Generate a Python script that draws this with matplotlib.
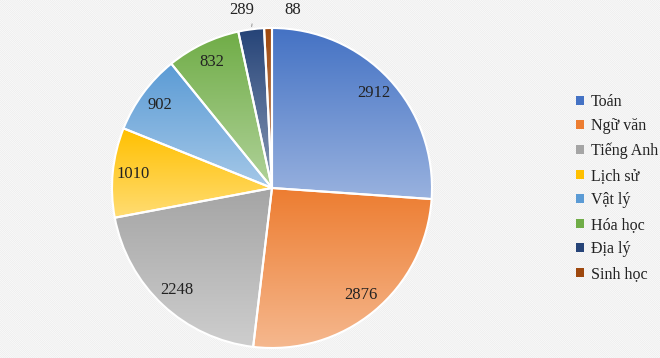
import numpy as np
import matplotlib
matplotlib.use("Agg")
import matplotlib.pyplot as plt
from matplotlib.patches import Rectangle, Patch
from matplotlib.colors import to_rgb

# data
subjects = ["Toán", "Ngữ văn", "Tiếng Anh", "Lịch sử", "Vật lý", "Hóa học", "Địa lý", "Sinh học"]
counts = [2912, 2876, 2248, 1010, 902, 832, 289, 88]
colors = ["#4472C4", "#ED7D31", "#A5A5A5", "#FFC000", "#5B9BD5", "#70AD47", "#264478", "#9E480E"]

plt.rcParams['font.family'] = ['Liberation Serif', 'DejaVu Serif']
plt.rcParams['hatch.linewidth'] = 0.7

W, H = 660, 358
fig = plt.figure(figsize=(W / 100, H / 100), dpi=100)

# striped background
bg = Rectangle((0, 0), 1, 1, transform=fig.transFigure, facecolor='white',
               edgecolor='#eeeeee', hatch='\\' * 16, linewidth=0, zorder=-10)
fig.patches.append(bg)

cx, cy, r = 272, 188, 160
ax = fig.add_axes([(cx - r) / W, (H - cy - r) / H, 2 * r / W, 2 * r / H])

wedges, texts = ax.pie(counts, colors=colors, startangle=90, counterclock=False,
                       wedgeprops=dict(edgecolor='white', linewidth=1.5))

# vertical gradient inside each wedge: base colour at top, lighter below
for w, c in zip(wedges, colors):
    base = np.array(to_rgb(c))
    light = base + (1 - base) * 0.45
    t = np.linspace(0, 1, 64)[:, None]
    grad = base * (1 - t[..., None]) + light * t[..., None]
    grad = np.repeat(grad, 2, axis=1)
    ext = w.get_path().get_extents()
    im = ax.imshow(grad, extent=[ext.x0, ext.x1, ext.y0, ext.y1], origin='upper',
                   aspect='auto', zorder=1, interpolation='bilinear')
    im.set_clip_path(w)
    w.set_facecolor('none')
    w.set_zorder(3)

# value labels
for w, v in zip(wedges, counts):
    mid = np.deg2rad((w.theta1 + w.theta2) / 2)
    if v > 500:
        ax.text(0.87 * np.cos(mid), 0.87 * np.sin(mid), str(v), ha='center', va='center',
                fontsize=12, color='#222222', zorder=5)

# small slices labelled outside
w_dl = wedges[6]
mid = np.deg2rad((w_dl.theta1 + w_dl.theta2) / 2)
ax.annotate(str(counts[6]), xy=(1.0 * np.cos(mid), 1.0 * np.sin(mid)),
            xytext=(-0.11, 1.11), ha='right', va='center', fontsize=12, color='#222222',
            arrowprops=dict(arrowstyle='-', color='#a0a0a0', lw=0.8,
                            connectionstyle='angle,angleA=0,angleB=80,rad=0'),
            annotation_clip=False, zorder=5)
ax.text(0.13, 1.11, str(counts[7]), ha='center', va='center', fontsize=12,
        color='#222222', zorder=5)

ax.set_xlim(-1, 1)
ax.set_ylim(-1, 1)
ax.axis('off')

# legend
handles = [Patch(facecolor=c, edgecolor='none') for c in colors]
fig.legend(handles, subjects, loc='upper left', bbox_to_anchor=(568 / W, 1 - 86 / H),
           frameon=False, fontsize=11.5, handlelength=0.5, handleheight=0.5,
           handletextpad=0.45, labelspacing=0.53, borderpad=0, labelcolor='#222222')

fig.savefig("out.png", dpi=100)
